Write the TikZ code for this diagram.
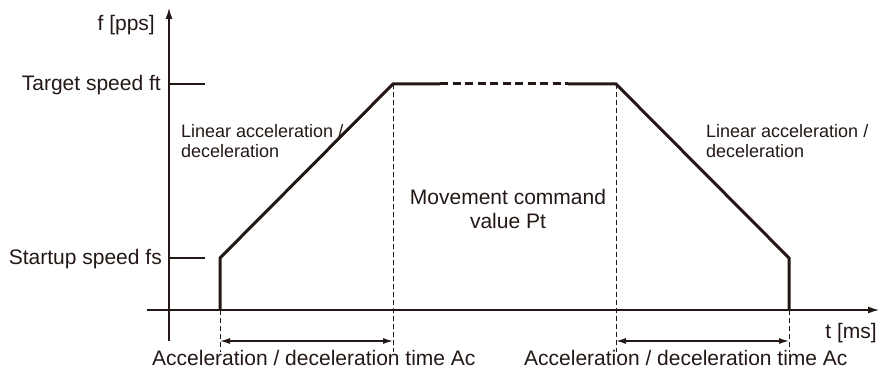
\documentclass[tikz,border=0pt]{standalone}
\usepackage{fontspec}
\setmainfont{Liberation Sans}
\usetikzlibrary{arrows.meta}
\definecolor{ink}{HTML}{231815}
\begin{document}
\begin{tikzpicture}[x=1pt,y=-1pt,
  every node/.style={text=ink},
  lbl/.style={font=\fontsize{21}{24}\selectfont, inner sep=0pt},
  small/.style={font=\fontsize{18}{20}\selectfont, inner sep=0pt},
  axisline/.style={line width=1.3pt, draw=ink},
  prof/.style={line width=3pt, draw=ink},
  profdash/.style={line width=3pt, draw=ink, dash pattern=on 8pt off 4.5pt},
  guide/.style={line width=1pt, draw=ink, dash pattern=on 5pt off 3pt},
  dimline/.style={line width=1.3pt, draw=ink, {Latex[length=10pt,width=6pt]}-{Latex[length=10pt,width=6pt]}},
  axarrow/.style={-{Latex[length=11pt,width=7pt]}}
]
\useasboundingbox (0,0) rectangle (879,374);
% axes
\coordinate (ybot) at (169,341);
\coordinate (ytop) at (169,8);
\coordinate (xl) at (147,310);
\coordinate (xr) at (879,310);
\draw[axisline,axarrow] (ybot) -- (ytop);
\draw[axisline,axarrow] (xl) -- (xr);
% ticks
\coordinate (ft0) at (169,84);
\coordinate (ft1) at (205,84);
\coordinate (fs0) at (169,258);
\coordinate (fs1) at (205,258);
\draw[axisline] (ft0) -- (ft1);
\draw[axisline] (fs0) -- (fs1);
% profile
\coordinate (p0) at (220,310);
\coordinate (p1) at (220,258);
\coordinate (p2) at (393,84);
\coordinate (p3) at (440,84);
\coordinate (p4) at (568,84);
\coordinate (p5) at (616,84);
\coordinate (p6) at (789,258);
\coordinate (p7) at (789,310);
\draw[prof] (p0) -- (p1) -- (p2) -- (p3);
\draw[profdash] (p3) -- (p4);
\draw[prof] (p4) -- (p5) -- (p6) -- (p7);
% guides
\coordinate (g1) at (220,352);
\coordinate (g2) at (393,352);
\coordinate (g3) at (616,352);
\coordinate (g4) at (789,352);
\draw[guide] (p0) -- (g1);
\draw[guide] (p2) -- (g2);
\draw[guide] (p5) -- (g3);
\draw[guide] (p7) -- (g4);
% dimension arrows
\coordinate (d1) at (220,341);
\coordinate (d2) at (393,341);
\coordinate (d3) at (616,341);
\coordinate (d4) at (789,341);
\draw[dimline] (d1) -- (d2);
\draw[dimline] (d3) -- (d4);
% labels
\node[lbl,anchor=base east] (fpps) at (155,31) {f [pps]};
\node[lbl,anchor=base east] (tgt) at (161,91) {Target speed ft};
\node[lbl,anchor=base east] (stp) at (162,265) {Startup speed fs};
\node[small,anchor=base west] (la1) at (181,138) {Linear acceleration /};
\node[small,anchor=base west] (la2) at (181,158) {deceleration};
\node[small,anchor=base west] (lb1) at (706,138) {Linear acceleration /};
\node[small,anchor=base west] (lb2) at (706,158) {deceleration};
\node[lbl,anchor=base] (mv1) at (508,205) {Movement command};
\node[lbl,anchor=base] (mv2) at (508,229) {value Pt};
\node[lbl,anchor=base east] (tms) at (877,338) {t [ms]};
\node[lbl,anchor=base west] (ac1) at (152,366) {Acceleration / deceleration time Ac};
\node[lbl,anchor=base west] (ac2) at (524,366) {Acceleration / deceleration time Ac};
\end{tikzpicture}
\end{document}
